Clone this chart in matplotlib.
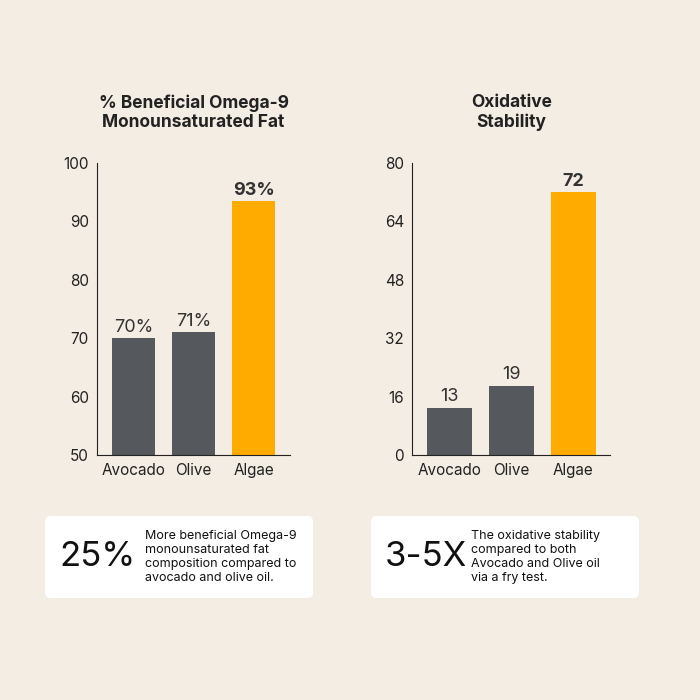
import matplotlib.pyplot as plt
from matplotlib.patches import FancyBboxPatch

cats = ["Avocado", "Olive", "Algae"]
omega = [70, 71, 93.5]
omega_labels = ["70%", "71%", "93%"]
stab = [13, 19, 72]
stab_labels = ["13", "19", "72"]
colors = ["#55585c", "#55585c", "#ffab00"]
bg = "#f3ede3"

fig = plt.figure(figsize=(7, 7), dpi=100, facecolor=bg)
plt.rcParams['font.family'] = ['Inter', 'DejaVu Sans']

def panel(rect, vals, labels, ylim, ticks, title):
    ax = fig.add_axes(rect)
    ax.set_facecolor(bg)
    x = range(len(cats))
    ax.bar(x, vals, width=0.72, color=colors, bottom=ylim[0] if ylim[0] else 0)
    ax.set_ylim(*ylim)
    ax.set_xlim(-0.6, 2.6)
    ax.set_yticks(ticks)
    ax.set_xticks(list(x))
    ax.set_xticklabels(cats)
    ax.tick_params(labelsize=11, length=0, pad=6, colors="#222222")
    for s in ["top", "right"]:
        ax.spines[s].set_visible(False)
    for s in ["left", "bottom"]:
        ax.spines[s].set_color("#222222")
    for i, (v, l) in enumerate(zip(vals, labels)):
        ax.text(i, v + (ylim[1]-ylim[0])*0.01, l, ha="center", va="bottom",
                fontsize=13, color="#333333" if i < 2 else "#222222",
                fontweight="bold" if i == 2 else "normal")
    ax.set_title(title, fontsize=12.5, fontweight="bold", color="#222222", pad=26, linespacing=1.1)
    return ax

def bars_bottom(ax):
    pass

ax1 = fig.add_axes([0.139, 0.35, 0.275, 0.417])
ax1.remove()
# left panel: bars from 50
a1 = fig.add_axes([0.139, 0.35, 0.275, 0.417])
a1.set_facecolor(bg)
a1.bar(range(3), [v - 50 for v in omega], bottom=50, width=0.72, color=colors)
a1.set_ylim(50, 100)
a1.set_yticks([50, 60, 70, 80, 90, 100])
for ax, vals, labels, yl, ticks, title in [
    (a1, omega, omega_labels, (50, 100), [50, 60, 70, 80, 90, 100], "% Beneficial Omega-9\nMonounsaturated Fat"),
]:
    pass

a2 = fig.add_axes([0.589, 0.35, 0.283, 0.417])
a2.set_facecolor(bg)
a2.bar(range(3), stab, width=0.72, color=colors)
a2.set_ylim(0, 80)
a2.set_yticks([0, 16, 32, 48, 64, 80])

for ax, vals, labels, yl, title in [
    (a1, omega, omega_labels, (50, 100), "% Beneficial Omega-9\nMonounsaturated Fat"),
    (a2, stab, stab_labels, (0, 80), "Oxidative\nStability")]:
    ax.set_xlim(-0.6, 2.6)
    ax.set_xticks(range(3))
    ax.set_xticklabels(cats)
    ax.tick_params(labelsize=11, length=0, pad=6, colors="#222222")
    for s in ["top", "right"]:
        ax.spines[s].set_visible(False)
    for s in ["left", "bottom"]:
        ax.spines[s].set_color("#222222")
    for i, (v, l) in enumerate(zip(vals, labels)):
        ax.text(i, v + (yl[1]-yl[0])*0.008, l, ha="center", va="bottom",
                fontsize=13, color="#333333",
                fontweight="bold" if i == 2 else "normal")
    ax.set_title(title, fontsize=12.5, fontweight="bold", color="#222222", pad=26, linespacing=1.15)

# info boxes
for x0, big, txt in [(45, "25%", "More beneficial Omega-9\nmonounsaturated fat\ncomposition compared to\navocado and olive oil."),
                     (371, "3-5X", "The oxidative stability\ncompared to both\nAvocado and Olive oil\nvia a fry test.")]:
    box = FancyBboxPatch((x0/700, 1-598/700), 268/700, 82/700,
                         boxstyle="round,pad=0,rounding_size=0.008",
                         transform=fig.transFigure, facecolor="white", edgecolor="none")
    fig.add_artist(box)
    fig.text((x0+14)/700, 1-557/700, big, fontsize=25, va="center", ha="left", color="#111111")
    fig.text((x0+100)/700, 1-557/700, txt, fontsize=9, va="center", ha="left",
             color="#111111", linespacing=1.2)

fig.savefig("out.png", dpi=100, facecolor=bg)
